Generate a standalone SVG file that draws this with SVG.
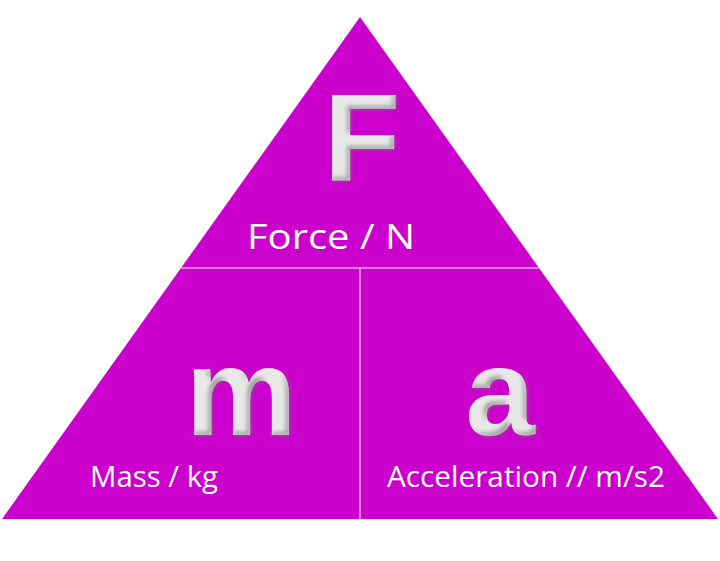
<svg xmlns="http://www.w3.org/2000/svg" width="720" height="561" viewBox="0 0 720 561">
<defs>
<filter id="sh" x="-20%" y="-20%" width="140%" height="140%">
<feOffset in="SourceAlpha" dx="-3" dy="-3" result="o"/>
<feComposite in="SourceAlpha" in2="o" operator="out" result="inner"/>
<feGaussianBlur in="inner" stdDeviation="2" result="b"/>
<feFlood flood-color="#777"/>
<feComposite in2="b" operator="in" result="s"/>
<feMerge><feMergeNode in="SourceGraphic"/><feMergeNode in="s"/></feMerge>
</filter>
</defs>
<style>
.big{font-family:"Liberation Sans",Arial,sans-serif;font-weight:bold;fill:#e8e8e8;text-anchor:middle}
.lab{font-family:"Open Sans","Liberation Sans",sans-serif;fill:#fff}
.div{stroke:#e9a9e9;stroke-width:1.5;fill:none}
</style>
<rect width="720" height="561" fill="#fff"/>
<g id="triangle"><polygon points="360,17 2,519 718,519" fill="#cc00cc"/></g>
<g id="connectors">
<line class="div" x1="180" y1="268" x2="540" y2="268"/>
<line class="div" x1="360" y1="268" x2="360" y2="519"/>
</g>
<g id="force"><text class="big" x="362" y="180" font-size="125" filter="url(#sh)">F</text>
<text class="lab" x="247" y="249" font-size="35" textLength="168" lengthAdjust="spacingAndGlyphs">Force / N</text></g>
<g id="mass"><text class="big" x="241" y="435" font-size="125" filter="url(#sh)">m</text>
<text class="lab" x="90" y="487" font-size="29" textLength="128" lengthAdjust="spacingAndGlyphs">Mass / kg</text></g>
<g id="accel"><text class="big" x="500" y="435" font-size="125" filter="url(#sh)">a</text>
<text class="lab" x="387" y="487" font-size="29" textLength="278" lengthAdjust="spacingAndGlyphs">Acceleration // m/s2</text></g>
</svg>
